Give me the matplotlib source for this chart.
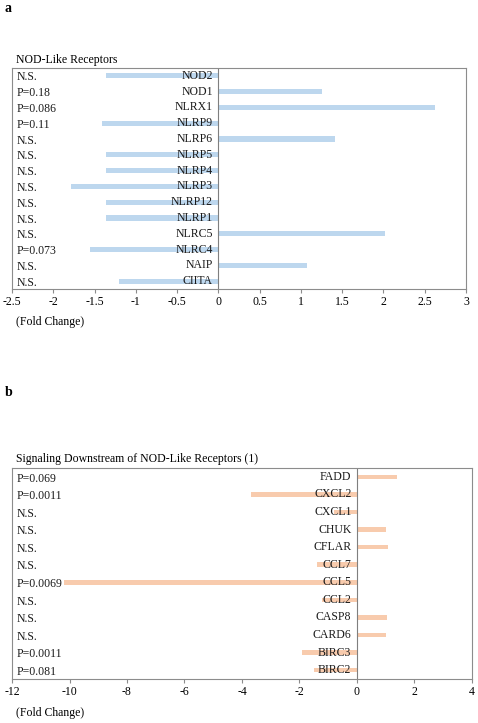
import matplotlib
matplotlib.use("Agg")
import matplotlib.pyplot as plt
import matplotlib.transforms as mtransforms

plt.rcParams['font.family'] = ['Liberation Serif', 'DejaVu Serif']
plt.rcParams['font.size'] = 8.5

# panel a data (top to bottom)
genes_a = ["NOD2", "NOD1", "NLRX1", "NLRP9", "NLRP6", "NLRP5", "NLRP4",
           "NLRP3", "NLRP12", "NLRP1", "NLRC5", "NLRC4", "NAIP", "CIITA"]
fold_a = [-1.36, 1.25, 2.62, -1.41, 1.41, -1.36, -1.36,
          -1.78, -1.36, -1.36, 2.02, -1.56, 1.07, -1.2]
pvals_a = ["N.S.", "P=0.18", "P=0.086", "P=0.11", "N.S.", "N.S.", "N.S.",
           "N.S.", "N.S.", "N.S.", "N.S.", "P=0.073", "N.S.", "N.S."]
ticks_a = [-2.5, -2, -1.5, -1, -0.5, 0, 0.5, 1, 1.5, 2, 2.5, 3]

# panel b data (top to bottom)
genes_b = ["FADD", "CXCL2", "CXCL1", "CHUK", "CFLAR", "CCL7", "CCL5",
           "CCL2", "CASP8", "CARD6", "BIRC3", "BIRC2"]
fold_b = [1.39, -3.7, -0.8, 1.0, 1.07, -1.38, -10.2,
          -1.2, 1.03, 1.0, -1.9, -1.5]
pvals_b = ["P=0.069", "P=0.0011", "N.S.", "N.S.", "N.S.", "N.S.", "P=0.0069",
           "N.S.", "N.S.", "N.S.", "P=0.0011", "P=0.081"]
ticks_b = [-12, -10, -8, -6, -4, -2, 0, 2, 4]

fig = plt.figure(figsize=(4.78, 7.23), dpi=100)


def panel(rect, genes, fold, pvals, ticks, color, bar_h, title, letter, letter_y, title_y, fc_y):
    ax = fig.add_axes(rect)
    n = len(genes)
    ypos = list(range(n))
    ax.barh(ypos, fold, height=bar_h, color=color, zorder=1)
    ax.set_ylim(n - 0.5, -0.5)
    ax.set_xlim(ticks[0], ticks[-1])
    ax.set_xticks(ticks)
    ax.set_xticklabels([f"{t:g}" for t in ticks])
    ax.set_yticks([])
    ax.axvline(0, color="#7f7f7f", lw=0.8, zorder=2)
    for s in ax.spines.values():
        s.set_color("#8c8c8c")
        s.set_linewidth(0.8)
    ax.tick_params(axis="x", direction="out", length=3, width=0.8,
                   color="#8c8c8c", pad=2, labelsize=8.5)
    for y, g in zip(ypos, genes):
        ax.annotate(g, (0, y), xytext=(-4, 0), textcoords="offset points",
                    ha="right", va="center", color="#1a1a1a", zorder=3)
    trans = mtransforms.blended_transform_factory(ax.transAxes, ax.transData)
    for y, p in zip(ypos, pvals):
        ax.text(0.01, y + 0.1, p, transform=trans, ha="left", va="center",
                color="#1a1a1a")
    fig.text(rect[0] + 0.008, title_y, title, ha="left", va="center", fontsize=8.5)
    fig.text(rect[0] + 0.008, fc_y, "(Fold Change)", ha="left", va="center", fontsize=8.5)
    fig.text(0.01, letter_y, letter, ha="left", va="center", fontsize=10,
             fontweight="bold")
    return ax


panel([12 / 478, 1 - 289 / 723, 454 / 478, 221 / 723], genes_a, fold_a, pvals_a,
      ticks_a, "#bdd7ee", 0.33, "NOD-Like Receptors", "a",
      1 - 9 / 723, 1 - 60 / 723, 1 - 322 / 723)
panel([12 / 478, 1 - 679 / 723, 460 / 478, 211 / 723], genes_b, fold_b, pvals_b,
      ticks_b, "#f8cbad", 0.26, "Signaling Downstream of NOD-Like Receptors (1)", "b",
      1 - 393 / 723, 1 - 459 / 723, 1 - 713 / 723)

fig.savefig("out.png", dpi=100)
